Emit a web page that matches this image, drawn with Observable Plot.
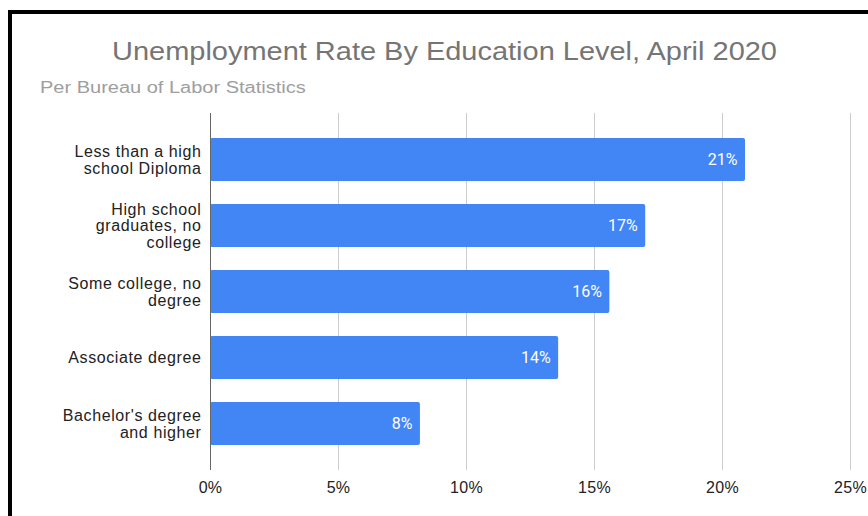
<!DOCTYPE html>
<html>
<head>
<meta charset="utf-8">
<script src="https://cdn.jsdelivr.net/npm/d3@7"></script>
<script src="https://cdn.jsdelivr.net/npm/@observablehq/plot@0.6"></script>
<style>
  html, body { margin: 0; padding: 0; background: #fff; }
  #wrap { position: relative; width: 868px; height: 516px; overflow: hidden; background: #fff; }
  #frame { position: absolute; left: 8px; top: 10px; right: -10px; bottom: -10px;
           border-left: 4px solid #000; border-top: 4px solid #000; }
  #title { position: absolute; left: 0; width: 889px; top: 36px; text-align: center;
           font: 26px "Liberation Sans", Arial, sans-serif; color: #757575; white-space: nowrap;
           transform: scaleX(1.114); transform-origin: 444.5px 0; }
  #subtitle { position: absolute; left: 40px; top: 79px;
              font: 16px "Liberation Sans", Arial, sans-serif; color: #9e9e9e; white-space: nowrap;
              transform: scaleX(1.25); transform-origin: 0 0; }
  #chart { position: absolute; left: 0; top: 0; }
  #chart g[aria-label="y-axis tick label"] text { letter-spacing: 0.6px; }
  #chart g[aria-label="x-axis tick label"] text { letter-spacing: 0.3px; }
</style>
</head>
<body>
<div id="wrap">
  <div id="frame"></div>
  <div id="chart"></div>
  <div id="title">Unemployment Rate By Education Level, April 2020</div>
  <div id="subtitle">Per Bureau of Labor Statistics</div>
</div>
<script>
const categories = [
  "Less than a high school Diploma",
  "High school graduates, no college",
  "Some college, no degree",
  "Associate degree",
  "Bachelor's degree and higher"
];
const tickLabels = [
  "Less than a high\nschool Diploma",
  "High school\ngraduates, no\ncollege",
  "Some college, no\ndegree",
  "Associate degree",
  "Bachelor's degree\nand higher"
];
const rates = [20.9, 17.0, 15.6, 13.6, 8.2];
const valueLabels = ["21%", "17%", "16%", "14%", "8%"];
const xTicks = [0, 5, 10, 15, 20, 25];

const data = categories.map((c, i) => ({cat: c, rate: rates[i], label: valueLabels[i]}));

const chart = Plot.plot({
  width: 868,
  height: 516,
  marginTop: 113,
  marginBottom: 46,
  marginLeft: 210,
  marginRight: 18,
  style: {fontFamily: "'Liberation Sans', Arial, sans-serif", background: "transparent"},
  x: {domain: [0, 25], label: null},
  y: {domain: categories, padding: 0.35, label: null},
  marks: [
    Plot.ruleX(xTicks.filter(d => d > 0), {stroke: "#cccccc", strokeWidth: 1}),
    Plot.barX(data, {x: "rate", y: "cat", fill: "#4285F4", rx: 2}),
    Plot.ruleX([0], {stroke: "#666666", strokeWidth: 1}),
    Plot.text(data, {
      x: "rate", y: "cat", text: "label", textAnchor: "end", dx: -8,
      fill: "white", fontSize: 16, fontWeight: "normal", fontFamily: "Roboto, sans-serif"
    }),
    Plot.axisX({
      ticks: xTicks, tickFormat: d => d + "%", tickSize: 0, tickPadding: 11,
      fontSize: 16, fill: "#222", label: null
    }),
    Plot.axisY({
      tickSize: 0, tickPadding: 9, fontSize: 16, fill: "#222", lineHeight: 1.03,
      tickFormat: d => tickLabels[categories.indexOf(d)], label: null
    })
  ]
});
document.getElementById("chart").appendChild(chart);
</script>
</body>
</html>
